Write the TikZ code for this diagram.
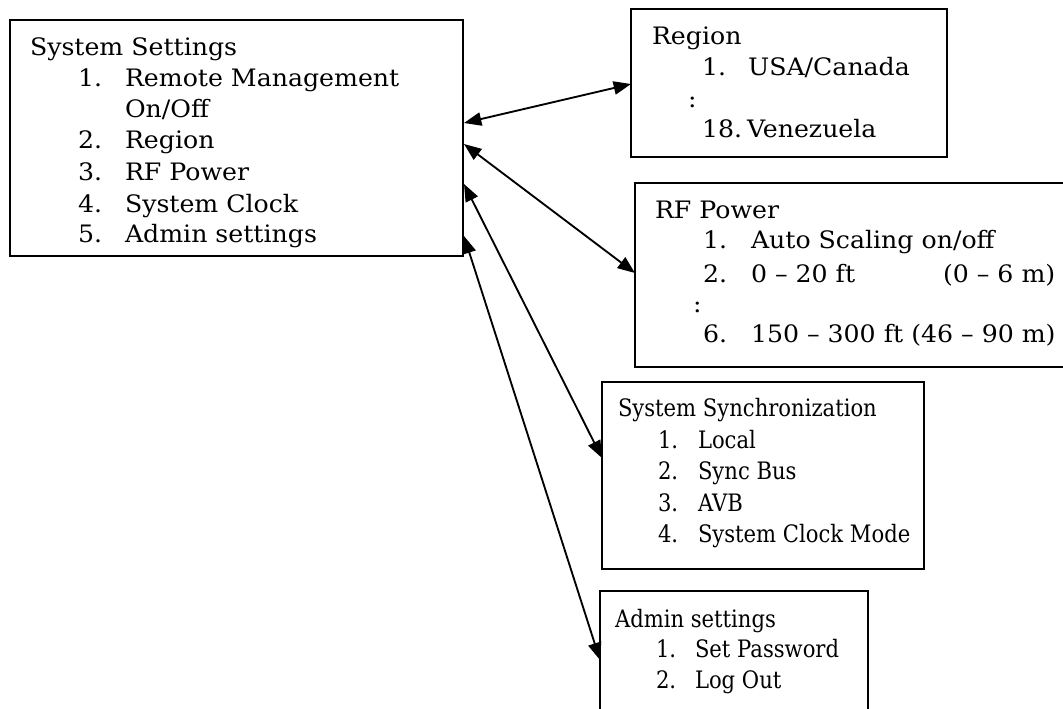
\documentclass[tikz,border=0pt]{standalone}
\usepackage{fontspec}
\setmainfont{DejaVu Serif}[FakeStretch=1.05]
\newfontfamily\narrowserif{DejaVu Serif}[FakeStretch=0.88]
\usetikzlibrary{arrows.meta,calc}
\begin{document}
\begin{tikzpicture}[x=0.75pt,y=-0.75pt,
  box/.style={draw,line width=1.2pt,rectangle,anchor=north west,inner sep=0pt,outer sep=0pt},
  txt/.style={anchor=base west,inner sep=0pt,outer sep=0pt,font=\fontsize{18}{22}\selectfont},
  ntxt/.style={anchor=base west,inner sep=0pt,outer sep=0pt,font=\narrowserif\fontsize{18}{22}\selectfont},
  link/.style={line width=1.4pt,{Triangle[length=13pt,width=10pt]}-{Triangle[length=13pt,width=10pt]}}]
\useasboundingbox (0,0) rectangle (1063,708);
% boxes
\node[box,minimum width=339.75pt,minimum height=177pt] (ss) at (10,20) {};
\node[box,minimum width=237pt,minimum height=111pt] (reg) at (631,9) {};
\node[box,minimum width=323.25pt,minimum height=138pt] (rf) at (635,183) {};
\node[box,minimum width=241.5pt,minimum height=140.25pt] (sync) at (602,382) {};
\node[box,minimum width=201pt,minimum height=97.5pt] (adm) at (600,591) {};
% System Settings
\node[txt] (ssT) at (30,55) {System Settings};
\node[txt] (ssN1) at (78,86) {1.};
\node[txt] (ssI1) at (125,86) {Remote Management};
\node[txt] (ssI1b) at (125,117) {On/Off};
\node[txt] (ssN2) at (78,148) {2.};
\node[txt] (ssI2) at (125,148) {Region};
\node[txt] (ssN3) at (78,180) {3.};
\node[txt] (ssI3) at (125,180) {RF Power};
\node[txt] (ssN4) at (78,212) {4.};
\node[txt] (ssI4) at (125,212) {System Clock};
\node[txt] (ssN5) at (78,242) {5.};
\node[txt] (ssI5) at (125,242) {Admin settings};
% Region
\node[txt] (regT) at (652,44) {Region};
\node[txt] (regN1) at (702,75) {1.};
\node[txt] (regI1) at (748,75) {USA/Canada};
\node[txt] (regC) at (688,107) {:};
\node[txt] (regN2) at (702,137) {18.};
\node[txt] (regI2) at (747,137) {Venezuela};
% RF Power
\node[txt] (rfT) at (655,218) {RF Power};
\node[txt] (rfN1) at (703,248) {1.};
\node[txt] (rfI1) at (751,248) {Auto Scaling on/off};
\node[txt] (rfN2) at (703,282) {2.};
\node[txt] (rfI2) at (751,282) {0 – 20 ft};
\node[txt] (rfI2m) at (943,282) {(0 – 6 m)};
\node[txt] (rfC) at (693,312) {:};
\node[txt] (rfN3) at (703,342) {6.};
\node[txt] (rfI3) at (751,342) {150 – 300 ft (46 – 90 m)};
% System Synchronization
\node[ntxt] (syT) at (618,416) {System Synchronization};
\node[ntxt] (syN1) at (658,448) {1.};
\node[ntxt] (syI1) at (698,448) {Local};
\node[ntxt] (syN2) at (658,479) {2.};
\node[ntxt] (syI2) at (698,479) {Sync Bus};
\node[ntxt] (syN3) at (658,511) {3.};
\node[ntxt] (syI3) at (698,511) {AVB};
\node[ntxt] (syN4) at (658,542) {4.};
\node[ntxt] (syI4) at (698,542) {System Clock Mode};
% Admin settings
\node[ntxt] (adT) at (615,627) {Admin settings};
\node[ntxt] (adN1) at (656,657) {1.};
\node[ntxt] (adI1) at (695,657) {Set Password};
\node[ntxt] (adN2) at (656,688) {2.};
\node[ntxt] (adI2) at (695,688) {Log Out};
% connectors
\draw[link] ($(ss.north east)+(1,103)$) -- ($(reg.north west)+(0,75)$);
\draw[link] ($(ss.north east)+(1,124)$) -- ($(rf.north west)+(0,90)$);
\draw[link] ($(ss.north east)+(1,164)$) -- ($(sync.north west)+(0,76)$);
\draw[link] ($(ss.north east)+(1,216)$) -- ($(adm.north west)+(0,69)$);
\end{tikzpicture}
\end{document}
